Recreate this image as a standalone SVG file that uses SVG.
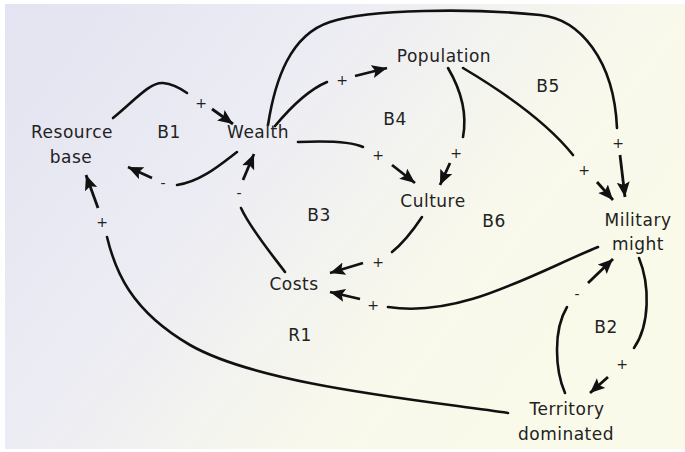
<svg xmlns="http://www.w3.org/2000/svg" width="685" height="452" viewBox="0 0 685 452">
<defs>
<linearGradient id="bg" x1="0" y1="0" x2="1" y2="0.5">
<stop offset="0" stop-color="#e3e3f1"/>
<stop offset="0.4" stop-color="#ececf4"/>
<stop offset="0.75" stop-color="#f8f8ec"/>
<stop offset="1" stop-color="#fafaea"/>
</linearGradient>
<marker id="ah" markerUnits="userSpaceOnUse" markerWidth="16" markerHeight="14" refX="15" refY="6.5" orient="auto">
<path d="M0,0 L15,6.5 L0,13 L3,6.5 z" fill="#111"/>
</marker>
<style>
.n{font-family:"DejaVu Sans",Verdana,sans-serif;font-size:17px;letter-spacing:0.5px;fill:#222;text-anchor:middle}
.l{font-family:"DejaVu Sans",Verdana,sans-serif;font-size:17px;letter-spacing:0.5px;fill:#222;text-anchor:middle}
.s{font-family:"DejaVu Sans",Verdana,sans-serif;font-size:14px;fill:#222;text-anchor:middle}
.c{fill:none;stroke:#111;stroke-width:2.6;stroke-linecap:round}
.a{fill:none;stroke:#111;stroke-width:2.8;marker-end:url(#ah)}
</style>
</defs>
<rect width="685" height="452" fill="#ffffff"/>
<rect x="5" y="4" width="680" height="445" fill="url(#bg)"/>

<g id="connectors">
<path class="c" d="M113,118 C135,100 150,82 163,83 C173,84 180,88 187,93"/>
<path class="a" d="M212,109 L233,124"/>
<path class="c" d="M237,152 C220,165 200,182 177,185"/>
<path class="a" d="M152,178 L128,167"/>
<path class="c" d="M285,272 C270,252 250,228 241,208"/>
<path class="a" d="M243,180 L254,154"/>
<path class="c" d="M508,413 C420,400 260,385 190,345 C130,310 115,270 107,237"/>
<path class="a" d="M98,208 L86,175"/>
<path class="c" d="M275,126 C290,108 308,90 327,82"/>
<path class="a" d="M355,76 L387,68"/>
<path class="c" d="M268,125 C275,80 290,35 330,22 C370,9 470,8 540,15 C580,19 614,60 617,128"/>
<path class="a" d="M620,155 L625,197"/>
<path class="c" d="M298,142 C320,141 350,141 363,147"/>
<path class="a" d="M392,165 L415,183"/>
<path class="c" d="M448,68 C458,85 468,110 463,137"/>
<path class="a" d="M450,163 L440,185"/>
<path class="c" d="M463,68 C500,90 545,120 573,155"/>
<path class="a" d="M597,182 L613,200"/>
<path class="c" d="M422,217 C412,232 402,244 392,252"/>
<path class="a" d="M363,263 L330,273"/>
<path class="c" d="M598,247 C530,275 460,318 388,307"/>
<path class="a" d="M360,299 L330,292"/>
<path class="c" d="M565,393 C555,370 553,330 567,307"/>
<path class="a" d="M588,283 L613,259"/>
<path class="c" d="M639,258 C650,285 650,325 634,348"/>
<path class="a" d="M608,377 L590,393"/>
</g>

<g id="signs">
<text class="s" x="201" y="108">+</text>
<text class="s" x="163" y="188">-</text>
<text class="s" x="239" y="198">-</text>
<text class="s" x="102" y="227">+</text>
<text class="s" x="342" y="85">+</text>
<text class="s" x="378" y="160">+</text>
<text class="s" x="456" y="158">+</text>
<text class="s" x="584" y="175">+</text>
<text class="s" x="618" y="148">+</text>
<text class="s" x="378" y="267">+</text>
<text class="s" x="373" y="310">+</text>
<text class="s" x="577" y="299">-</text>
<text class="s" x="622" y="369">+</text>
</g>

<g id="loops">
<text class="l" x="169" y="138">B1</text>
<text class="l" x="395" y="125">B4</text>
<text class="l" x="548" y="92">B5</text>
<text class="l" x="319" y="221">B3</text>
<text class="l" x="494" y="227">B6</text>
<text class="l" x="300" y="341">R1</text>
<text class="l" x="606" y="333">B2</text>
</g>

<g id="resource-base"><text class="n" x="72" y="138">Resource</text><text class="n" x="71" y="163">base</text></g>
<g id="wealth"><text class="n" x="258" y="138">Wealth</text></g>
<g id="population"><text class="n" x="444" y="62">Population</text></g>
<g id="culture"><text class="n" x="433" y="207">Culture</text></g>
<g id="military-might"><text class="n" x="638" y="226">Military</text><text class="n" x="638" y="250">might</text></g>
<g id="costs"><text class="n" x="294" y="290">Costs</text></g>
<g id="territory-dominated"><text class="n" x="567" y="415">Territory</text><text class="n" x="566" y="440">dominated</text></g>
</svg>
